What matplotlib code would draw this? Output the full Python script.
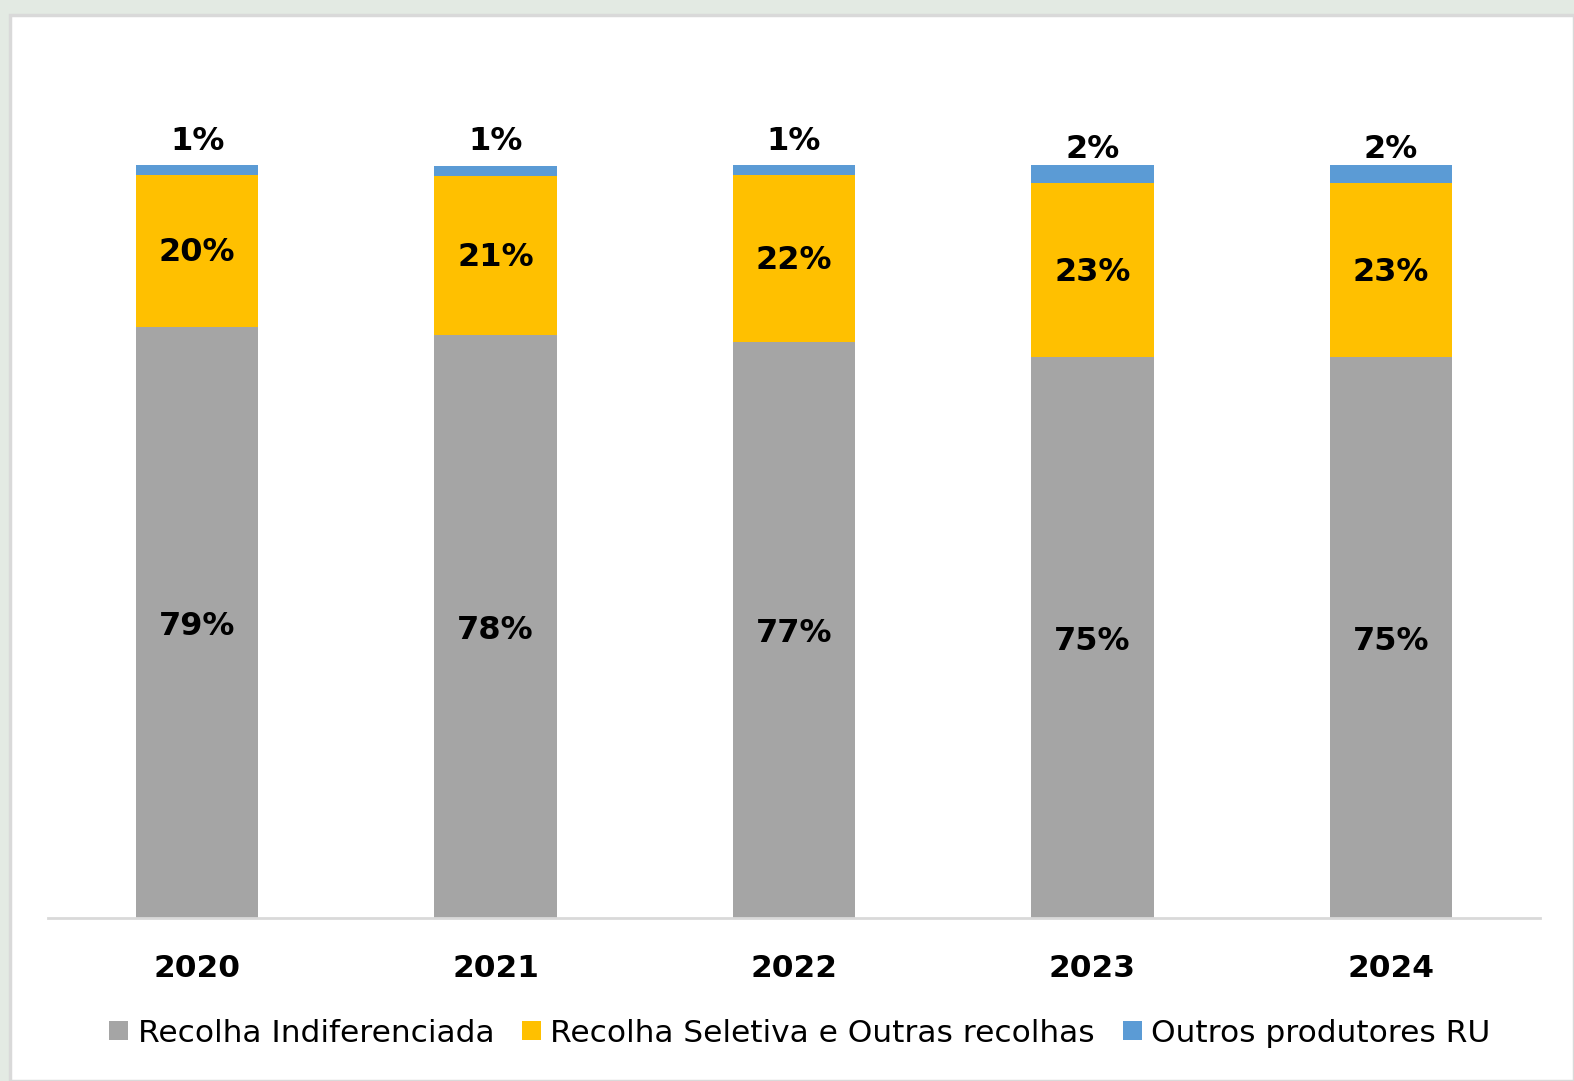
import matplotlib
matplotlib.use("Agg")
import matplotlib.pyplot as plt
from matplotlib.patches import Rectangle

years = ["2020", "2021", "2022", "2023", "2024"]
indiferenciada = [78.5, 77.4, 76.5, 74.5, 74.5]
seletiva = [20.2, 21.2, 22.2, 23.1, 23.1]
outros = [1.3, 1.3, 1.3, 2.4, 2.4]
lbl_indif = ["79%", "78%", "77%", "75%", "75%"]
lbl_selet = ["20%", "21%", "22%", "23%", "23%"]
lbl_outros = ["1%", "1%", "1%", "2%", "2%"]
series_names = ["Recolha Indiferenciada", "Recolha Seletiva e Outras recolhas", "Outros produtores RU"]
colors = ["#A5A5A5", "#FFC000", "#5B9BD5"]

W, H = 1574, 1081
fig = plt.figure(figsize=(W / 100, H / 100), dpi=100)
fig.patch.set_facecolor("#E3EAE3")

# white chart area with light border
fig.patches.append(Rectangle((10 / W, 0), 1 - 10 / W, 1 - 15 / H, transform=fig.transFigure,
                             facecolor="white", edgecolor="#D9D9D9", linewidth=2.5, zorder=-10))

left, right, bottom, top = 48, 1540, 918, 165
ax = fig.add_axes([left / W, 1 - bottom / H, (right - left) / W, (bottom - top) / H])
ax.set_facecolor("none")
x = list(range(len(years)))
bw = 0.41
b1 = ax.bar(x, indiferenciada, bw, color=colors[0], label=series_names[0])
b2 = ax.bar(x, seletiva, bw, bottom=indiferenciada, color=colors[1], label=series_names[1])
base3 = [a + b for a, b in zip(indiferenciada, seletiva)]
b3 = ax.bar(x, outros, bw, bottom=base3, color=colors[2], label=series_names[2])

ax.set_xlim(-0.5, len(years) - 0.5)
ax.set_ylim(0, 100)
for s in ["top", "right", "left"]:
    ax.spines[s].set_visible(False)
ax.spines["bottom"].set_color("#D9D9D9")
ax.spines["bottom"].set_linewidth(2)
ax.set_yticks([])
ax.set_xticks(x)
ax.set_xticklabels(years, fontsize=22.5, fontweight="bold", fontfamily="DejaVu Sans")
ax.tick_params(axis="x", length=0, pad=26)

fs = 23
for i in x:
    ax.annotate(lbl_indif[i], (i, indiferenciada[i] / 2), xytext=(0, -4),
                textcoords="offset pixels", ha="center", va="center",
                fontsize=fs, fontweight="bold")
    ax.annotate(lbl_selet[i], (i, indiferenciada[i] + seletiva[i] / 2), xytext=(0, -2),
                textcoords="offset pixels", ha="center", va="center",
                fontsize=fs, fontweight="bold")
    tot = base3[i] + outros[i]
    ax.annotate(lbl_outros[i], (i, tot), xytext=(0, 24 if outros[i] < 2 else 16),
                textcoords="offset pixels", ha="center", va="center",
                fontsize=fs, fontweight="bold")

leg = fig.legend(handles=[b1, b2, b3], labels=series_names, loc="center",
                 bbox_to_anchor=(800 / W, 1 - 1033 / H), ncol=3, frameon=False,
                 fontsize=22.5, handlelength=0.6, handleheight=0.6, handletextpad=0.3,
                 columnspacing=0.9)

fig.savefig("out.png", dpi=100, facecolor=fig.get_facecolor())
